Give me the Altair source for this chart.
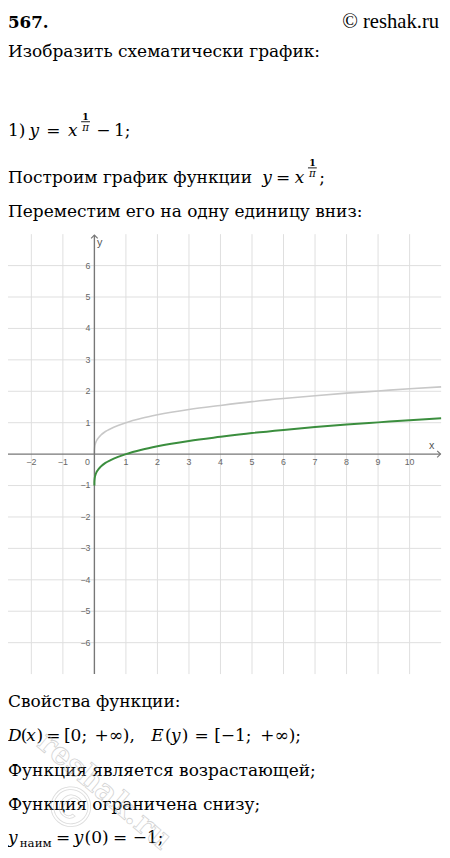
import altair as alt
import pandas as pd

# ---- values ----
xs = [0, 0.001, 0.01, 0.03, 0.06, 0.1, 0.2, 0.35, 0.5, 0.75, 1, 1.5, 2, 3, 4, 5, 6, 7, 8, 9, 10, 11]
base_y = [0, 0.11, 0.23, 0.33, 0.41, 0.48, 0.60, 0.72, 0.80, 0.91, 1.00, 1.14, 1.25, 1.42,
          1.55, 1.67, 1.77, 1.86, 1.94, 2.01, 2.08, 2.14]
shift_y = [-1.00, -0.89, -0.77, -0.67, -0.59, -0.52, -0.40, -0.28, -0.20, -0.09, 0.00, 0.14,
           0.25, 0.42, 0.55, 0.67, 0.77, 0.86, 0.94, 1.01, 1.08, 1.14]
x_ticks = [-2, -1, 1, 2, 3, 4, 5, 6, 7, 8, 9, 10]
x_tick_labels = ["−2", "−1", "1", "2", "3", "4", "5", "6", "7", "8", "9", "10"]
y_ticks = [-6, -5, -4, -3, -2, -1, 1, 2, 3, 4, 5, 6]
y_tick_labels = ["−6", "−5", "−4", "−3", "−2", "−1", "1", "2", "3", "4", "5", "6"]
grid_x = [-2, -1, 1, 2, 3, 4, 5, 6, 7, 8, 9, 10]
grid_y = [-6, -5, -4, -3, -2, -1, 1, 2, 3, 4, 5, 6]

curves = pd.DataFrame({"x": xs, "base": base_y, "shift": shift_y})
xt = pd.DataFrame({"v": x_ticks, "lab": x_tick_labels})
yt = pd.DataFrame({"v": y_ticks, "lab": y_tick_labels})
gx = pd.DataFrame({"v": grid_x})
gy = pd.DataFrame({"v": grid_y})

W, H = 442, 850
xsc = alt.Scale(domain=[-2.741, 11.028], nice=False, zero=False)
ysc = alt.Scale(domain=[-12.609, 13.953], nice=False, zero=False)

SERIF = "DejaVu Serif"
SANS = "Liberation Sans"
FS = 17.3
GRID = "#dedede"
AXIS = "#777777"
LAB = "#666666"


def XF(f):
    return alt.X(f, type="quantitative", scale=xsc, axis=None)


def YF(f):
    return alt.Y(f, type="quantitative", scale=ysc, axis=None)


def XD(v):
    return alt.XDatum(v, scale=xsc, axis=None)


def YD(v):
    return alt.YDatum(v, scale=ysc, axis=None)


one = alt.Data(values=[{"k": 0}])


def T(s, x, y, size=FS, style="normal", weight="normal", font=SERIF, align="left",
      color="#000000", angle=0, baseline="alphabetic", **kw):
    return alt.Chart(one).mark_text(
        text=s, font=font, fontSize=size, fontStyle=style, fontWeight=weight,
        align=align, baseline=baseline, color=color, angle=angle, **kw
    ).encode(x=alt.value(x), y=alt.value(y))


def bar(x1, x2, y):
    return alt.Chart(one).mark_rule(color="#000000", strokeWidth=0.9).encode(
        x=alt.value(x1), x2=alt.value(x2), y=alt.value(y))


def power(xc, b):
    """stacked 1/pi exponent centred on xc, relative to baseline b"""
    return [
        T("1", xc, b - 17, size=9.5, weight="bold", align="center"),
        bar(xc - 4.5, xc + 4.5, b - 15),
        T("π", xc, b - 5.5, size=10.5, style="italic", align="center"),
    ]


layers = []

# grid
layers.append(alt.Chart(gx).mark_rule(color=GRID, strokeWidth=1).encode(
    x=XF("v"), y=YD(-7), y2=alt.Y2Datum(7)))
layers.append(alt.Chart(gy).mark_rule(color=GRID, strokeWidth=1).encode(
    y=YF("v"), x=XD(-2.741), x2=alt.X2Datum(11.0)))

# base curve y = x^(1/pi)
layers.append(alt.Chart(curves).mark_line(color="#c8c8c8", strokeWidth=1.6,
                                          interpolate="monotone").encode(
    x=XF("x"), y=YF("base"), order="x:Q"))

# axes
layers.append(alt.Chart(one).mark_rule(color=AXIS, strokeWidth=1.4).encode(
    x=XD(-2.741), x2=alt.X2Datum(10.98), y=YD(0)))
layers.append(alt.Chart(one).mark_rule(color=AXIS, strokeWidth=1.4).encode(
    x=XD(0), y=YD(-7), y2=alt.Y2Datum(6.97)))
layers.append(alt.Chart(one).mark_point(shape="M-1,-1L0,0L-1,1", size=45, filled=False,
                                        color=AXIS, strokeWidth=1.2, opacity=1).encode(
    x=XD(10.98), y=YD(0)))
layers.append(alt.Chart(one).mark_point(shape="M-1,1L0,0L1,1", size=45, filled=False,
                                        color=AXIS, strokeWidth=1.2, opacity=1).encode(
    x=XD(0), y=YD(6.97)))

# shifted curve y = x^(1/pi) - 1
layers.append(alt.Chart(curves).mark_line(color="#3b8e3e", strokeWidth=2,
                                          interpolate="monotone").encode(
    x=XF("x"), y=YF("shift"), order="x:Q"))

# tick labels
layers.append(alt.Chart(xt).mark_text(font=SANS, fontSize=9, color=LAB, dy=8,
                                      baseline="middle").encode(
    x=XF("v"), y=YD(0), text="lab:N"))
layers.append(alt.Chart(yt).mark_text(font=SANS, fontSize=9, color=LAB, dx=-4,
                                      align="right", baseline="middle").encode(
    x=XD(0), y=YF("v"), text="lab:N"))
layers.append(alt.Chart(one).mark_text(text="0", font=SANS, fontSize=9, color=LAB, dy=8,
                                       baseline="middle").encode(x=XD(-0.22), y=YD(0)))
layers.append(alt.Chart(one).mark_text(text="x", font=SANS, fontSize=11, color="#555555",
                                       baseline="middle").encode(x=XD(10.7), y=YD(0.26)))
layers.append(alt.Chart(one).mark_text(text="y", font=SANS, fontSize=11, color="#555555",
                                       baseline="middle").encode(x=XD(0.17), y=YD(6.72)))

# ---- header text ----
layers.append(T("567.", 0, 13, size=17, weight="bold"))
layers.append(T("© reshak.ru", 439, 13, size=21, font="Liberation Serif", align="right"))
layers.append(T("Изобразить схематически график:", 0, 42))

# 1) y = x^(1/pi) - 1;
b1 = 123
layers.append(T("1)", 0, b1))
layers.append(T("y", 22, b1, style="italic"))
layers.append(T("=", 39, b1))
layers.append(T("x", 61, b1, style="italic"))
layers += power(79, b1)
layers.append(T("−", 90, b1))
layers.append(T("1;", 108, b1))

# Построим график функции y = x^(1/pi);
b2 = 170
layers.append(T("Построим график функции", 0, b2))
layers.append(T("y", 259, b2, style="italic"))
layers.append(T("=", 273, b2))
layers.append(T("x", 292, b2, style="italic"))
layers += power(310, b2)
layers.append(T(";", 317, b2))

layers.append(T("Переместим его на одну единицу вниз:", 0, 205))

# ---- footer text ----
layers.append(T("Свойства функции:", 0, 704))
b3 = 739
layers.append(T("D", 0, b3, style="italic"))
layers.append(T("(", 13, b3))
layers.append(T("x", 18.5, b3, style="italic"))
layers.append(T(")", 29, b3))
layers.append(T("=", 39, b3))
layers.append(T("[0;", 57, b3))
layers.append(T("+∞),", 88, b3))
layers.append(T("E", 146, b3, style="italic"))
layers.append(T("(", 160, b3))
layers.append(T("y", 166, b3, style="italic"))
layers.append(T(")", 177, b3))
layers.append(T("=", 190, b3))
layers.append(T("[−1;", 210, b3))
layers.append(T("+∞);", 257, b3))
layers.append(T("Функция является возрастающей;", 0, 774))
layers.append(T("Функция ограничена снизу;", 0, 809))
b4 = 843
layers.append(T("y", 0, b4, style="italic"))
layers.append(T("наим", 12, b4 + 4, size=12))
layers.append(T("=", 49, b4))
layers.append(T("y", 67, b4, style="italic"))
layers.append(T("(0)", 78, b4))
layers.append(T("=", 107, b4))
layers.append(T("−1;", 127, b4))

# faint watermark
layers.append(T("reshak.ru", 98, 790, size=31, weight="bold", angle=40, align="center",
                baseline="middle", color="#ffffff", stroke="#b0b0b0", strokeWidth=0.8,
                opacity=0.55, fillOpacity=0))
layers.append(T("©", 62, 808, size=56, angle=40, align="center", baseline="middle",
                color="#ffffff", stroke="#b0b0b0", strokeWidth=0.8, opacity=0.45,
                fillOpacity=0))

chart = alt.layer(*layers).properties(
    width=W, height=H, padding=0,
    autosize=alt.AutoSizeParams(type="none"),
    background="white",
).configure_view(stroke=None)

chart.save("out.html", embed_options={"renderer": "svg", "actions": False})
